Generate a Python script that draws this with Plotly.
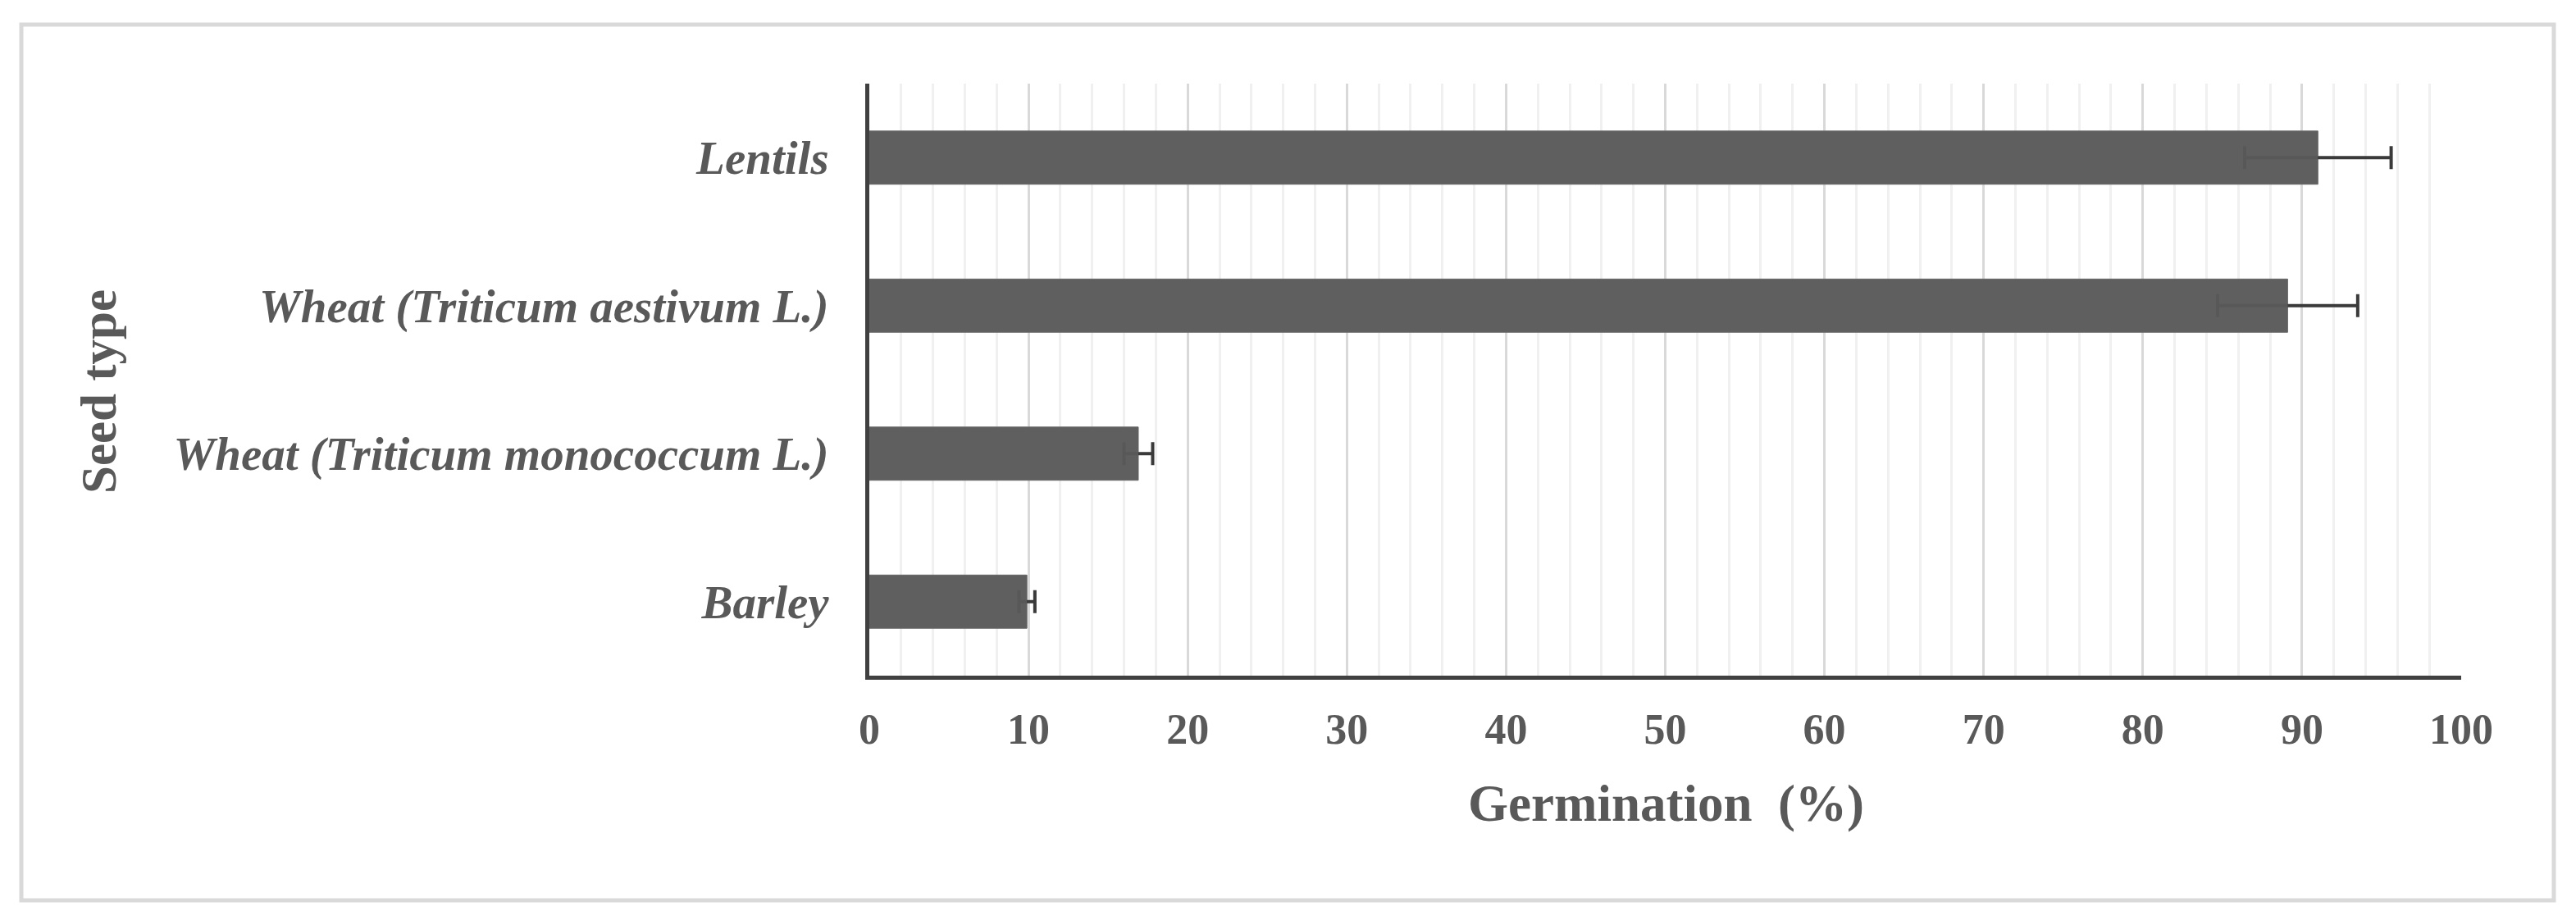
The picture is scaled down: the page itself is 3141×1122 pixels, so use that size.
import plotly.graph_objects as go

# seed types, listed top to bottom as in the chart
seeds = ["Lentils", "Wheat (Triticum aestivum L.)", "Wheat (Triticum monococcum L.)", "Barley"]
germination = [91.0, 89.1, 16.9, 9.9]
germination_err = [4.6, 4.4, 0.9, 0.5]
x_ticks = [0, 10, 20, 30, 40, 50, 60, 70, 80, 90, 100]

W, H = 3141, 1122
OFF = 8  # the html body has an 8px margin, so shift everything back by that
L, T = 1060 - OFF, 102 - OFF
pw, ph = 1941, 722
R, B = W - L - pw, H - T - ph


def px_x(x):
    return (x - OFF - L) / pw


def px_y(y):
    return 1 - (y - OFF - T) / ph


text_color = "#595959"
serif = "Liberation Serif, Times New Roman, serif"

fig = go.Figure()
# bars with error bars
fig.add_trace(go.Bar(
    y=seeds,
    x=germination,
    orientation="h",
    width=0.36,
    marker=dict(color="#5f5f5f", line=dict(color="#7a7a7a", width=1)),
    error_x=dict(type="data", array=germination_err, color="#3a3a3a",
                 thickness=4, width=14),
))
# same bars again, semi-opaque, so the part of the error bar inside the bar looks faint
fig.add_trace(go.Bar(
    y=seeds,
    x=germination,
    orientation="h",
    width=0.36,
    marker=dict(color="rgba(95,95,95,0.82)", line=dict(width=0)),
    hoverinfo="skip",
))

fig.update_layout(
    width=W, height=H,
    barmode="overlay",
    margin=dict(l=L, r=R, t=T, b=B),
    paper_bgcolor="white",
    plot_bgcolor="white",
    showlegend=False,
    xaxis=dict(
        range=[0, 100],
        tickvals=x_ticks,
        showgrid=True, gridcolor="#d9d9d9", gridwidth=3,
        minor=dict(dtick=2, showgrid=True, gridcolor="#f0f0f0", gridwidth=3),
        showline=True, linecolor="#404040", linewidth=5,
        zeroline=False,
        ticks="",
        ticklabelstandoff=16,
        tickfont=dict(family=serif, size=52, color=text_color, weight="bold"),
        fixedrange=True,
    ),
    yaxis=dict(
        range=[3.5, -0.5],
        showgrid=False,
        showline=True, linecolor="#404040", linewidth=5,
        ticks="",
        ticklabelstandoff=33,
        tickfont=dict(family=serif, size=57, color=text_color,
                      weight="bold", style="italic"),
        fixedrange=True,
    ),
    annotations=[
        dict(text="Germination  (%)", xref="paper", yref="paper",
             x=px_x(2031), y=px_y(980), xanchor="center", yanchor="middle",
             showarrow=False,
             font=dict(family=serif, size=63, color=text_color, weight="bold")),
        dict(text="Seed type", xref="paper", yref="paper",
             x=px_x(120), y=px_y(478), xanchor="center", yanchor="middle",
             textangle=-90, showarrow=False,
             font=dict(family=serif, size=61, color=text_color, weight="bold")),
    ],
    shapes=[
        dict(type="rect", xref="paper", yref="paper",
             x0=px_x(26), x1=px_x(3114), y0=px_y(1098), y1=px_y(30),
             line=dict(color="#d9d9d9", width=5), fillcolor="rgba(0,0,0,0)",
             layer="below"),
    ],
)

fig.write_html("out.html")
